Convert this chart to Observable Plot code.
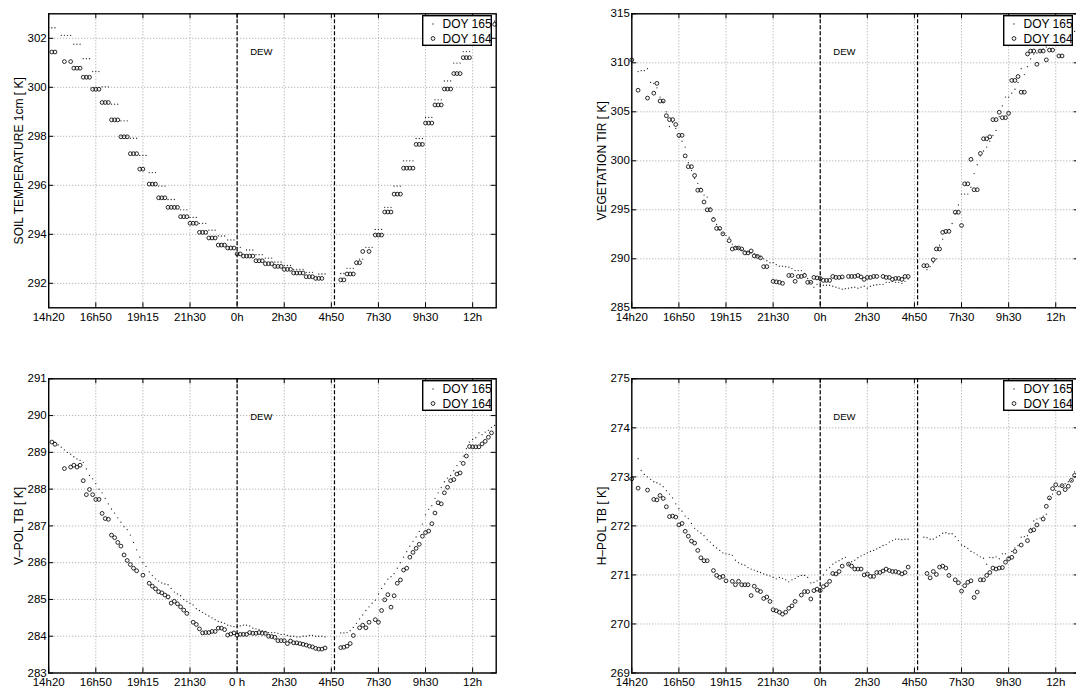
<!DOCTYPE html>
<html>
<head>
<meta charset="utf-8">
<script src="https://cdn.jsdelivr.net/npm/d3@7"></script>
<script src="https://cdn.jsdelivr.net/npm/@observablehq/plot@0.6"></script>
<style>
html, body { margin: 0; padding: 0; background: #fff; overflow: hidden; }
#fig { position: relative; width: 1076px; height: 689px; overflow: hidden; background: #fff;
       font-family: "Liberation Sans", Arial, Helvetica, sans-serif; }
.panel { position: absolute; }
.panel svg { display: block; }
</style>
</head>
<body>
<div id="fig"></div>
<script>
// ---------- x axis (10-minute samples since 14h20) ----------
const tickPositions = [0, 15, 30, 45, 60, 75, 90, 105, 120, 135];
const tickLabels    = ["14h20", "16h50", "19h15", "21h30", "0h", "2h30", "4h50", "7h30", "9h30", "12h"];
const tickLabelsV   = ["14h20", "16h50", "19h15", "21h30", "0 h", "2h30", "4h50", "7h30", "9h30", "12h"];
const dewLines = [60, 91];
const dewText = "DEW";
const dewLabelX = 67.7;
const seriesNames = ["DOY 165", "DOY 164"];

// ---------- y axes ----------
const soilTicks = [292, 294, 296, 298, 300, 302];
const vegTicks  = [285, 290, 295, 300, 305, 310, 315];
const vpolTicks = [283, 284, 285, 286, 287, 288, 289, 290, 291];
const hpolTicks = [269, 270, 271, 272, 273, 274, 275];

// ---------- SOIL TEMPERATURE 1cm ----------
const soil165 = [
302.43,302.43,302.43,null,302.12,302.12,302.12,302.12,301.76,301.76,
301.76,301.17,301.17,301.17,300.64,300.64,300.64,300.02,300.02,300.02,
299.31,299.31,299.31,298.63,298.63,298.63,297.92,297.92,297.92,297.22,
297.22,297.22,296.52,296.52,296.52,295.97,295.97,295.97,295.42,295.42,
295.42,null,295.00,295.00,295.00,294.69,294.69,294.69,294.45,294.45,
294.45,294.17,294.17,294.17,293.93,293.93,293.93,293.77,293.77,293.77,
293.47,293.47,null,293.36,293.36,293.36,293.17,293.17,293.17,293.03,
293.03,293.03,292.87,292.87,292.87,292.73,292.73,292.73,292.57,292.57,
292.57,292.57,292.45,292.45,292.45,null,292.38,292.38,292.38,null,
null,null,null,292.40,292.40,292.61,292.61,292.61,null,292.99,
292.99,293.47,293.47,293.47,294.20,294.20,294.20,295.10,295.10,295.10,
295.97,295.97,295.97,297.00,297.00,297.00,297.00,297.91,297.91,297.91,
298.77,298.77,298.77,299.49,299.49,299.49,300.26,300.26,300.26,300.99,
300.99,300.99,301.46,301.46,301.46,302.00,302.00,302.00,302.35,302.35,
302.35,302.70,302.70];
const soil164 = [
null,301.44,301.44,null,null,301.05,null,301.05,300.78,300.78,
300.78,300.41,300.41,300.41,299.92,299.92,299.92,299.38,299.38,299.38,
298.67,298.67,298.67,297.98,297.98,297.98,297.29,297.29,297.29,296.66,
296.66,null,296.05,296.05,296.05,295.49,295.49,295.49,295.10,295.10,
295.10,295.10,294.72,294.72,294.72,294.45,294.45,294.45,294.08,294.08,
294.08,293.85,293.85,293.85,293.56,293.56,293.56,293.44,293.44,293.44,
293.20,293.20,293.11,293.11,293.11,293.11,292.92,292.92,292.92,292.80,
292.80,292.80,292.69,292.69,292.69,292.57,292.57,292.57,292.42,292.42,
292.42,292.42,292.27,292.27,292.27,292.20,292.20,292.20,null,null,
null,null,null,292.14,292.14,292.38,292.38,292.38,292.84,292.84,
293.30,null,293.30,null,293.97,293.97,293.97,294.91,294.91,294.91,
295.64,295.64,295.64,296.70,296.70,296.70,296.70,297.67,297.67,297.67,
298.54,298.54,298.54,299.28,299.28,299.28,299.93,299.93,299.93,300.56,
300.56,300.56,301.21,301.21,301.21,301.85,301.85,301.85,302.20,302.20,
302.20,null,302.57];

// ---------- VEGETATION TIR ----------
const veg165 = [
null,null,309.1,309.2,309.2,309.4,308.0,307.9,307.45,306.5,
306.0,305.0,303.5,303.9,303.3,302.4,302.0,301.4,299.8,299.0,
298.2,297.7,297.2,296.5,296.3,295.2,294.2,293.5,293.0,292.6,
292.4,292.2,291.5,291.2,291.1,290.9,290.8,290.7,290.6,290.5,
290.3,290.2,290.0,289.8,289.6,289.6,289.4,289.25,289.25,289.2,
289.15,289.0,288.8,288.8,288.8,288.5,288.0,287.6,287.1,287.4,
287.6,287.3,287.3,287.3,287.2,287.1,287.0,286.9,286.95,287.0,
287.05,287.1,287.0,287.1,287.2,287.0,287.2,287.3,287.35,287.4,
287.4,287.6,287.6,287.7,287.6,287.6,287.5,287.7,287.95,null,
null,null,null,null,288.9,289.2,289.6,290.0,291.4,292.0,
292.6,293.0,293.6,294.6,295.5,296.6,296.6,296.6,297.3,298.7,
299.6,300.5,301.0,301.4,302.0,302.6,303.1,304.5,305.6,306.5,
306.5,306.9,307.3,308.0,309.4,308.8,309.6,310.4,310.9,311.0,
311.2,311.4,311.6,311.8,312.0,312.2,312.3,312.5,312.6,312.8,
313.0,313.2,313.4];
const veg164 = [
310.3,null,307.2,null,null,306.4,null,306.9,307.9,306.1,
306.1,304.6,304.2,304.2,303.7,302.6,302.6,300.5,299.4,299.4,
298.5,297.0,297.0,295.8,295.0,295.0,294.0,293.1,293.1,292.55,
null,291.85,291.0,291.1,291.1,291.0,290.6,290.6,290.8,290.3,
290.25,290.1,289.2,289.2,null,287.7,287.65,287.6,287.5,null,
288.3,288.3,287.7,288.2,288.2,288.3,287.6,287.6,288.1,288.05,
288.0,287.8,287.8,287.8,288.2,288.1,288.1,288.15,null,288.2,
288.2,288.2,288.3,288.15,287.9,288.1,288.1,288.2,288.2,null,
288.2,288.1,288.1,287.9,288.0,288.0,287.9,288.2,288.2,null,
null,null,null,289.3,289.3,null,289.9,291.0,291.0,292.7,
292.8,292.8,null,294.75,294.75,293.4,297.65,297.65,300.15,297.05,
297.05,300.75,302.25,302.25,302.45,304.2,304.2,304.95,304.4,304.4,
304.85,308.2,308.2,308.6,307.0,307.0,310.9,311.2,311.2,309.85,
311.2,311.2,310.3,311.3,311.3,null,310.7,310.7,null,null,
null,null,null];

// ---------- V-POL TB ----------
const vpol165 = [
289.57,null,289.28,289.20,289.14,289.07,289.00,288.95,288.88,288.82,
288.78,288.73,288.55,288.37,288.28,288.15,288.00,287.90,287.75,287.60,
287.46,287.35,287.22,287.10,286.98,286.90,286.75,286.55,286.35,286.15,
286.00,285.90,285.75,285.65,285.56,285.50,285.45,285.42,285.40,285.30,
285.20,285.15,285.10,285.00,284.95,284.90,284.85,284.75,284.70,284.65,
284.60,284.55,284.50,284.45,284.40,284.38,284.35,284.30,284.28,284.26,
284.26,284.28,284.30,284.30,284.28,284.22,284.20,284.18,284.15,284.12,
284.10,284.10,284.10,284.08,284.05,284.05,284.02,284.00,284.00,283.98,
283.98,284.00,284.00,284.02,284.02,284.00,284.00,284.00,283.98,null,
null,null,null,284.09,284.09,284.10,284.15,284.24,284.35,284.47,
284.58,284.70,284.80,284.90,284.98,285.15,285.30,285.42,285.55,285.62,
285.70,285.85,286.00,286.15,286.30,286.45,286.58,286.70,286.85,287.05,
287.30,287.45,287.55,287.75,287.90,288.05,288.20,288.30,288.37,288.50,
288.64,288.75,288.90,289.10,289.28,289.35,289.40,289.53,289.48,289.55,
289.60,289.68,289.73];
const vpol164 = [
null,289.28,289.22,null,null,288.56,null,288.60,288.65,288.60,
288.65,288.23,287.85,287.99,287.85,287.72,287.72,287.34,287.20,287.18,
286.75,286.68,286.55,286.45,286.21,286.06,285.95,285.85,285.78,null,
285.66,null,285.44,285.36,285.29,285.21,285.18,285.12,285.07,284.90,
284.95,284.88,284.80,284.71,284.62,null,284.38,284.32,284.20,284.09,
284.10,284.10,284.13,284.13,284.22,284.22,284.18,284.03,284.06,284.09,
284.03,284.05,284.05,284.05,284.10,284.08,284.08,284.10,284.08,284.08,
284.00,283.99,283.97,283.88,283.88,283.88,283.80,283.87,283.82,283.82,
283.80,283.78,283.76,283.73,283.71,283.67,283.65,283.65,283.68,null,
null,null,null,283.69,283.70,283.73,283.80,284.02,null,284.23,
284.30,284.23,284.38,null,284.45,284.38,284.70,284.99,285.13,284.79,
285.10,285.44,285.53,285.80,285.85,286.15,286.28,286.39,286.50,286.72,
286.82,286.86,287.06,287.35,287.63,287.60,287.90,288.05,288.23,288.26,
288.41,288.44,288.70,288.90,289.16,289.15,289.15,289.15,289.23,289.30,
289.41,289.53,null];

// ---------- H-POL TB ----------
const hpol165 = [
null,null,273.37,273.13,273.05,273.00,272.95,272.90,272.88,272.85,
272.80,272.72,272.65,272.57,272.45,272.35,272.30,272.20,272.15,272.05,
271.95,271.90,271.85,271.80,271.72,271.67,271.60,271.55,271.50,271.45,
271.43,271.42,271.40,271.30,271.25,271.22,271.20,271.15,271.12,271.10,
271.07,271.05,271.02,271.00,270.98,270.95,270.92,270.95,270.93,270.90,
270.86,270.90,270.93,270.97,270.99,270.99,270.95,270.84,270.85,270.88,
270.92,271.00,271.10,271.15,271.22,271.26,271.29,271.33,271.36,271.22,
271.27,271.30,271.35,271.39,271.42,271.45,271.48,271.50,271.53,271.56,
271.60,271.62,271.67,271.70,271.73,271.73,271.72,271.73,271.73,null,
null,null,null,271.77,271.76,271.73,271.73,271.77,271.80,271.85,
271.86,271.84,271.84,271.78,271.70,271.61,271.58,271.54,271.48,271.45,
271.41,271.37,271.34,271.22,271.36,271.35,271.37,271.33,271.43,271.43,
271.36,271.48,271.55,271.60,271.77,271.78,271.80,271.95,272.10,272.14,
272.16,272.20,272.24,272.55,272.65,272.72,272.80,272.82,272.86,272.90,
272.93,273.10,273.15];
const hpol164 = [
272.96,null,272.77,null,null,272.73,null,272.54,272.53,272.62,
272.56,272.39,272.19,272.20,272.18,272.02,272.05,271.89,271.79,271.69,
271.65,271.50,271.35,271.29,271.29,null,271.09,270.99,270.95,270.97,
270.88,null,270.87,270.80,270.87,270.80,270.80,270.80,270.58,270.77,
270.69,270.66,270.52,270.55,270.46,270.29,270.27,270.24,270.20,270.24,
270.32,270.37,270.46,null,270.59,270.66,270.66,270.51,270.68,270.71,
270.68,270.76,270.80,270.87,271.03,271.02,271.07,271.18,null,271.22,
271.18,271.12,271.12,271.12,271.00,271.02,270.97,270.97,271.05,271.05,
271.08,271.12,271.09,271.07,271.07,271.05,271.02,271.05,271.16,null,
null,null,null,null,271.03,270.94,271.07,271.01,271.16,271.18,
271.14,270.99,null,270.90,270.84,270.67,270.78,270.85,270.88,270.54,
270.65,270.90,270.90,270.99,271.05,271.14,271.12,271.14,271.15,271.26,
271.33,271.36,271.48,null,271.61,null,271.70,271.90,271.92,272.02,
null,272.14,272.40,272.57,272.76,272.84,272.67,272.82,272.74,272.81,
272.93,273.03,null];

// ---------- drawing ----------
const FONT = '"Liberation Sans", Arial, Helvetica, sans-serif';
const fig = document.getElementById("fig");
const toPoints = arr => arr.map((v, i) => ({i, v})).filter(d => d.v != null);

function makePanel(cfg) {
  const {left, top, width, height, ml, mr, mt, mb, yDomain, yTicks, yLabel, xLabels, s165, s164, legendLeft} = cfg;
  const pw = width - ml - mr, ph = height - mt - mb;
  const labelMap = new Map(tickPositions.map((p, k) => [p, xLabels[k]]));
  const gridStyle = {stroke: "#8c8c8c", strokeOpacity: 1, strokeWidth: 0.8, strokeDasharray: "1,2"};
  const chart = Plot.plot({
    width, height,
    marginLeft: ml, marginRight: mr, marginTop: mt, marginBottom: mb,
    style: {fontFamily: FONT, fontSize: "11.5px", color: "#000", background: "transparent", overflow: "visible"},
    x: {domain: [0, 142.5], label: null},
    y: {domain: yDomain, label: null},
    marks: [
      Plot.gridX(tickPositions, gridStyle),
      Plot.gridY(yTicks, gridStyle),
      Plot.ruleX(dewLines, {stroke: "#000", strokeWidth: 1.2, strokeDasharray: "4,2"}),
      Plot.text([dewText], {x: () => dewLabelX, text: d => d, frameAnchor: "top", dy: 34, fontSize: 9.5, fill: "#000"}),
      Plot.dot(toPoints(s165), {x: "i", y: "v", r: 0.65, fill: "#222", stroke: null}),
      Plot.dot(toPoints(s164), {x: "i", y: "v", r: 1.9, fill: "none", stroke: "#111", strokeWidth: 0.9}),
      Plot.tickX(tickPositions, {insetTop: ph - 5, stroke: "#000", strokeWidth: 1}),
      Plot.tickX(tickPositions, {insetBottom: ph - 5, stroke: "#000", strokeWidth: 1}),
      Plot.tickY(yTicks, {insetRight: pw - 5, stroke: "#000", strokeWidth: 1}),
      Plot.tickY(yTicks, {insetLeft: pw - 5, stroke: "#000", strokeWidth: 1}),
      Plot.frame({stroke: "#000", strokeWidth: 1.4}),
      Plot.axisX({ticks: tickPositions, tickFormat: d => labelMap.get(d), tickSize: 0, tickPadding: 5, label: null, fontSize: 11.5}),
      Plot.axisY({ticks: yTicks, tickFormat: d => String(d), tickSize: 0, tickPadding: 2, label: null, fontSize: 11.5}),
      Plot.text([yLabel], {text: d => d, frameAnchor: "left", textAnchor: "middle", lineAnchor: "middle",
                           rotate: -90, dx: -30, fontSize: 12, fill: "#000"})
    ]
  });
  const wrap = document.createElement("div");
  wrap.className = "panel";
  wrap.style.left = left + "px";
  wrap.style.top = top + "px";
  wrap.style.width = width + "px";
  wrap.style.height = height + "px";
  wrap.append(chart);

  // legend box
  const lw = 70, lh = 31;
  const lg = d3.create("svg")
    .attr("width", lw).attr("height", lh)
    .style("position", "absolute")
    .style("left", legendLeft + "px")
    .style("top", (mt + 1.7) + "px")
    .style("font-family", FONT);
  lg.append("rect").attr("x", 0.7).attr("y", 0.7).attr("width", lw - 1.4).attr("height", lh - 1.4)
    .attr("fill", "#fff").attr("stroke", "#000").attr("stroke-width", 1.4);
  const rows = [9, 23.5];
  lg.append("circle").attr("cx", 11).attr("cy", rows[0]).attr("r", 0.65).attr("fill", "#222");
  lg.append("circle").attr("cx", 11).attr("cy", rows[1]).attr("r", 1.9).attr("fill", "none").attr("stroke", "#111").attr("stroke-width", 0.9);
  seriesNames.forEach((name, k) => {
    lg.append("text").attr("x", 20.5).attr("y", rows[k]).attr("dy", "0.36em")
      .attr("font-size", 12).attr("fill", "#000").text(name);
  });
  wrap.append(lg.node());
  fig.append(wrap);
}

const leftCol  = {left: 0,   width: 540, ml: 48.2, mr: 44.3, legendLeft: 421.5};
const rightCol = {left: 540, width: 540, ml: 91.3, mr: 1.2,  legendLeft: 463};
const topRow    = {top: 0,   height: 340, mt: 13.3, mb: 32.7};
const bottomRow = {top: 345, height: 344, mt: 33.3, mb: 16.5};

makePanel({...leftCol, ...topRow, yDomain: [291, 303], yTicks: soilTicks,
  yLabel: "SOIL TEMPERATURE 1cm [ K]", xLabels: tickLabels, s165: soil165, s164: soil164});
makePanel({...rightCol, ...topRow, yDomain: [285, 315], yTicks: vegTicks,
  yLabel: "VEGETATION TIR [ K]", xLabels: tickLabels, s165: veg165, s164: veg164});
makePanel({...leftCol, ...bottomRow, yDomain: [283, 291], yTicks: vpolTicks,
  yLabel: "V\u2013POL TB [ K]", xLabels: tickLabelsV, s165: vpol165, s164: vpol164});
makePanel({...rightCol, ...bottomRow, yDomain: [269, 275], yTicks: hpolTicks,
  yLabel: "H\u2013POL TB [ K]", xLabels: tickLabels, s165: hpol165, s164: hpol164});
</script>
</body>
</html>
